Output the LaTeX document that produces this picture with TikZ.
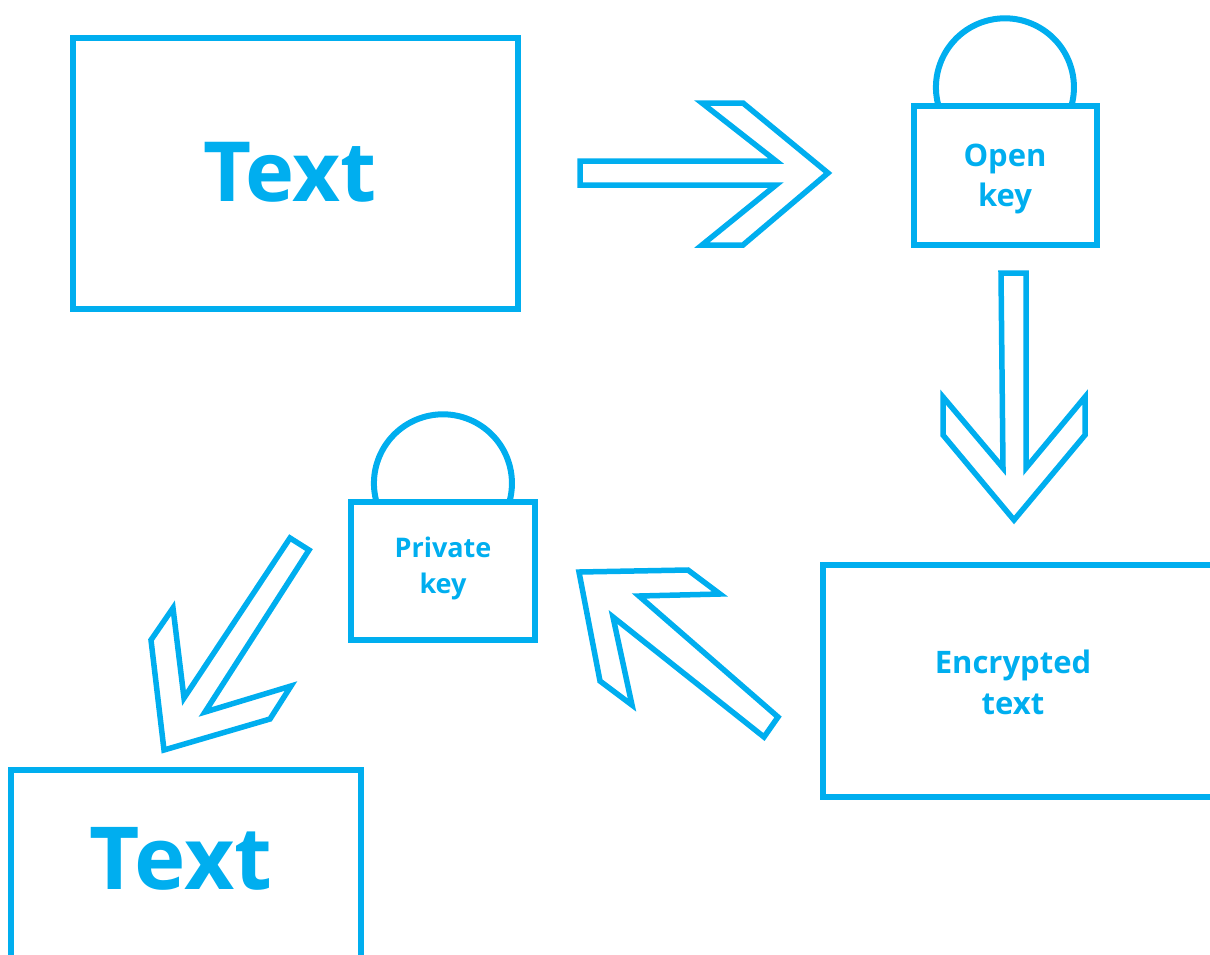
\documentclass[tikz,border=0pt]{standalone}
\usepackage{fontspec}
\setmainfont{Open Sans}
\definecolor{keyblue}{HTML}{00AEEF}
\tikzset{
  outline/.style={draw=keyblue,line width=6pt,line join=miter},
  thinline/.style={draw=keyblue,line width=5.5pt,line join=miter},
  label/.style={text=keyblue,font=\bfseries\fontsize{31}{41}\selectfont,align=center},
  biglabel/.style={text=keyblue,font=\bfseries\fontsize{83}{90}\selectfont,align=center},
  wordlabel/.style={text=keyblue,font=\bfseries\fontsize{87}{90}\selectfont,align=center},
  openlabel/.style={text=keyblue,font=\bfseries\fontsize{31}{40}\selectfont,align=center},
  keylabel/.style={text=keyblue,font=\bfseries\fontsize{27}{36}\selectfont,align=center}
}
\begin{document}
\begin{tikzpicture}[x=1pt,y=-1pt]
	\useasboundingbox (0,0) rectangle (1210,954);
	% boxes
	\draw[outline] (73,38) rectangle (518,309);
	\node[biglabel] (plain) at (290,172) {Text};
	\draw[outline] (823,565) rectangle (1225,797);
	\node[label] (cipher) at (1013,682) {Encrypted\\text};
	\draw[outline] (11,770) rectangle (361,975);
	\node[wordlabel] (result) at (181,859) {Text};
	% locks
	\draw[outline] (938,104) arc (166:374:69);
	\draw[outline] (914,106) rectangle (1097,245);
	\node[openlabel] (open) at (1005,179) {Open\\key};
	\draw[outline] (376,500) arc (166:374:69);
	\draw[outline] (351,502) rectangle (535,640);
	\node[keylabel] (private) at (443,568) {Private\\key};
	% arrows
	\draw[thinline] (580,161)--(776,161)--(702,103)--(743,103)--(828,173)--(743,245)--(702,245)--(776,185)--(580,185)--cycle;
	\draw[thinline] (1001,273)--(1026,273)--(1026,468)--(1085,397)--(1085,435)--(1014,520)--(943,435)--(943,397)--(1003,468)--cycle;
	\draw[thinline] (778,717)--(639,596)--(720,594)--(688,570)--(579,572)--(600,681)--(632,705)--(613,617)--(764,737)--cycle;
	\draw[thinline] (309,550)--(205,712)--(291,686)--(270,719)--(164,750)--(151,640)--(173,608)--(184,698)--(290,538)--cycle;
\end{tikzpicture}
\end{document}
